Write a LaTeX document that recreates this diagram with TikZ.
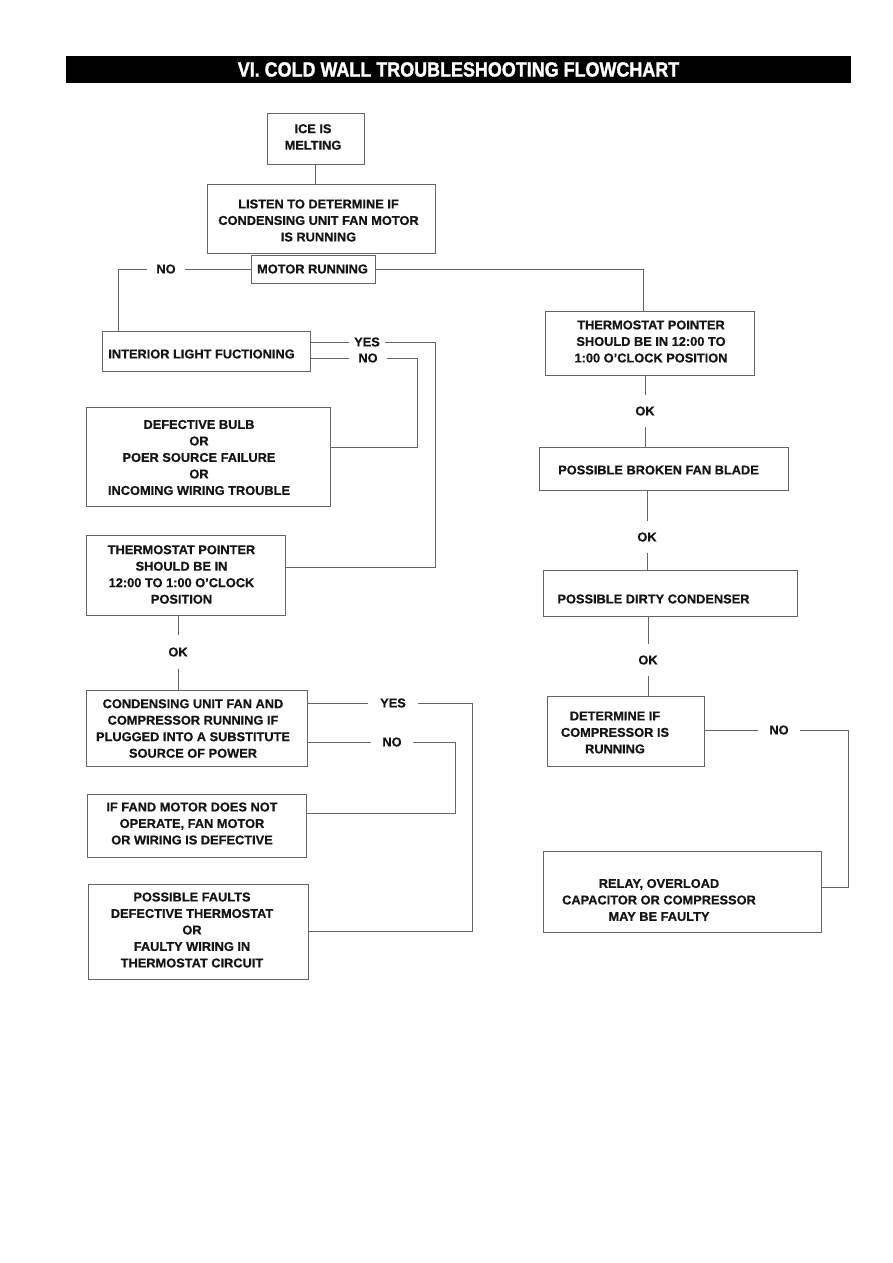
\documentclass[tikz,border=0pt]{standalone}
\usepackage{fontspec}
\setmainfont{Liberation Sans}[BoldFeatures={FakeBold=0.6}]
\newfontfamily\titlefont{Liberation Sans}[FakeBold=1.6]
\usepackage{graphicx}
\definecolor{linegray}{HTML}{666666}
\definecolor{txtcol}{HTML}{151515}
\begin{document}
\begin{tikzpicture}[x=1pt,y=-1pt,
  box/.style={draw=linegray, line width=0.9pt, rectangle, inner sep=0pt, outer sep=0pt},
  txt/.style={text=txtcol, align=center, inner sep=0pt, font=\bfseries\fontsize{12.8}{16.5}\selectfont},
  lbl/.style={txt, inner xsep=9pt, inner ysep=7pt},
  conn/.style={draw=linegray, line width=0.9pt}]
\fill[white] (0,0) rectangle (893,1263);
\useasboundingbox (0,0) rectangle (893,1263);

% title
\node[fill=black, minimum width=785pt, minimum height=27pt, inner sep=0pt, text=white,
      font=\titlefont\bfseries\fontsize{20.5}{21}\selectfont] (title) at (458.5,69.5)
      {\scalebox{0.875}[1]{VI. COLD WALL TROUBLESHOOTING FLOWCHART}};

% boxes
\node[box, minimum width=97pt,  minimum height=51pt] (ice)       at (315.5,138.5) {};
\node[box, minimum width=228pt, minimum height=69pt] (listen)    at (321,218.5) {};
\node[box, minimum width=124pt, minimum height=28pt] (motor)     at (313,269) {};
\node[box, minimum width=208pt, minimum height=40pt] (interior)  at (206,351) {};
\node[box, minimum width=244pt, minimum height=99pt] (bulb)      at (208,456.5) {};
\node[box, minimum width=199pt, minimum height=80pt] (thermL)    at (185.5,575) {};
\node[box, minimum width=221pt, minimum height=76pt] (cond)      at (196.5,728) {};
\node[box, minimum width=219pt, minimum height=63pt] (fand)      at (196.5,825.5) {};
\node[box, minimum width=220pt, minimum height=95pt] (faults)    at (198,931.5) {};
\node[box, minimum width=209pt, minimum height=64pt] (thermR)    at (649.5,343) {};
\node[box, minimum width=249pt, minimum height=43pt] (broken)    at (663.5,468.5) {};
\node[box, minimum width=254pt, minimum height=46pt] (dirty)     at (670,593) {};
\node[box, minimum width=157pt, minimum height=70pt] (determine) at (625.5,731) {};
\node[box, minimum width=278pt, minimum height=81pt] (relay)     at (682,891.5) {};

% box texts
\node[txt] (icet)       at (313,137)     {ICE IS\\MELTING};
\node[txt] (listent)    at (318.5,220.5) {LISTEN TO DETERMINE IF\\CONDENSING UNIT FAN MOTOR\\IS RUNNING};
\node[txt] (motort)     at (312.5,269)   {MOTOR RUNNING};
\node[txt] (interiort)  at (201.5,354)   {INTERIOR LIGHT FUCTIONING};
\node[txt] (bulbt)      at (199,457.5)   {DEFECTIVE BULB\\OR\\POER SOURCE FAILURE\\OR\\INCOMING WIRING TROUBLE};
\node[txt] (thermLt)    at (181.5,574.5) {THERMOSTAT POINTER\\SHOULD BE IN\\12:00 TO 1:00 O'CLOCK\\POSITION};
\node[txt] (condt)      at (193,728.5)   {CONDENSING UNIT FAN AND\\COMPRESSOR RUNNING IF\\PLUGGED INTO A SUBSTITUTE\\SOURCE OF POWER};
\node[txt] (fandt)      at (192,823.5)   {IF FAND MOTOR DOES NOT\\OPERATE, FAN MOTOR\\OR WIRING IS DEFECTIVE};
\node[txt] (faultst)    at (192,930)     {POSSIBLE FAULTS\\DEFECTIVE THERMOSTAT\\OR\\FAULTY WIRING IN\\THERMOSTAT CIRCUIT};
\node[txt] (thermRt)    at (651,341.5)   {THERMOSTAT POINTER\\SHOULD BE IN 12:00 TO\\1:00 O'CLOCK POSITION};
\node[txt] (brokent)    at (658.5,470)   {POSSIBLE BROKEN FAN BLADE};
\node[txt] (dirtyt)     at (653.5,599)   {POSSIBLE DIRTY CONDENSER};
\node[txt] (determinet) at (615,732.5)   {DETERMINE IF\\COMPRESSOR IS\\RUNNING};
\node[txt] (relayt)     at (659,900)     {RELAY, OVERLOAD\\CAPACITOR OR COMPRESSOR\\MAY BE FAULTY};

% line labels
\node[lbl] (no1) at (166,269) {NO};
\node[lbl, inner xsep=5pt] (yes1) at (367,342) {YES};
\node[lbl] (no2) at (368,358) {NO};
\node[lbl, inner ysep=12pt] (ok1) at (178,652) {OK};
\node[lbl, inner xsep=12pt] (yes2) at (393,703) {YES};
\node[lbl, inner xsep=11pt] (no3) at (392,742) {NO};
\node[lbl, inner ysep=11pt] (ok2) at (645,411) {OK};
\node[lbl, inner ysep=11pt] (ok3) at (647,537) {OK};
\node[lbl, inner ysep=11pt] (ok4) at (648,660) {OK};
\node[lbl, inner xsep=11pt] (no4) at (779,730) {NO};

% corner points
\coordinate (c1) at (435,342);
\coordinate (c2) at (417,358);
\coordinate (c3) at (472,703);
\coordinate (c4) at (455,742);
\coordinate (c5) at (848,730);

% connectors
\draw[conn] (ice.south) -- (ice.south |- listen.north);
\draw[conn] (motor.west) -- (no1.east);
\draw[conn] (no1.west) -| ([xshift=16pt]interior.north west);
\draw[conn] (motor.east) -| ([xshift=-6.5pt]thermR.north);
\draw[conn] (interior.east |- yes1) -- (yes1.west);
\draw[conn] (yes1.east) -- (c1) |- ([yshift=8pt]thermL.east);
\draw[conn] (interior.east |- no2) -- (no2.west);
\draw[conn] (no2.east) -- (c2) |- ([yshift=9.5pt]bulb.east);
\draw[conn] (thermL.south -| ok1) -- (ok1.north);
\draw[conn] (ok1.south) -- (ok1 |- cond.north);
\draw[conn] (cond.east |- yes2) -- (yes2.west);
\draw[conn] (yes2.east) -- (c3) |- (faults.east);
\draw[conn] (cond.east |- no3) -- (no3.west);
\draw[conn] (no3.east) -- (c4) |- ([yshift=12.5pt]fand.east);
\draw[conn] (thermR.south -| ok2) -- (ok2.north);
\draw[conn] (ok2.south) -- (ok2 |- broken.north);
\draw[conn] (broken.south -| ok3) -- (ok3.north);
\draw[conn] (ok3.south) -- (ok3 |- dirty.north);
\draw[conn] (dirty.south -| ok4) -- (ok4.north);
\draw[conn] (ok4.south) -- (ok4 |- determine.north);
\draw[conn] (determine.east |- no4) -- (no4.west);
\draw[conn] (no4.east) -- (c5) |- ([yshift=4.5pt]relay.east);
\end{tikzpicture}
\end{document}
